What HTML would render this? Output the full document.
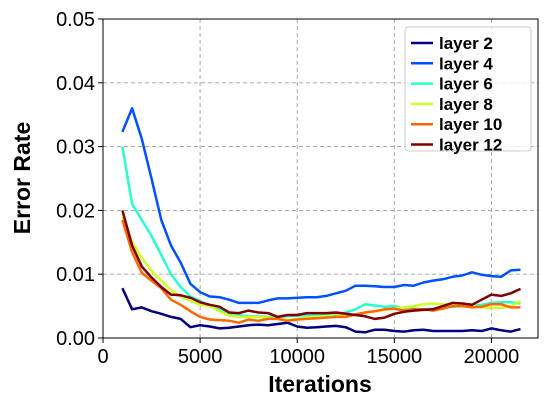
<!DOCTYPE html>
<html><head><meta charset="utf-8"><style>
body{margin:0;background:#fff;font-family:"Liberation Sans",sans-serif}
svg text{font-family:"Liberation Sans",sans-serif}
</style></head><body>
<svg id="c" width="547" height="408"></svg>
<script>
const xTicks=[0,5000,10000,15000,20000];
const yTicks=[0,0.01,0.02,0.03,0.04,0.05];
const yTickLabels=["0.00","0.01","0.02","0.03","0.04","0.05"];
const seriesNames=["layer 2","layer 4","layer 6","layer 8","layer 10","layer 12"];
const seriesColors=["#00007f","#0050ff","#29ffce","#ceff29","#ff6800","#7f0000"];
const layer2=[0.0078,0.0045,0.0048,0.0042,0.0038,0.0033,0.0030,0.0017,0.0020,0.0018,0.0015,0.0016,0.0018,0.0020,0.0021,0.0020,0.0022,0.0024,0.0018,0.0016,0.0017,0.0018,0.0019,0.0017,0.0010,0.0009,0.0013,0.0013,0.0011,0.0010,0.0012,0.0013,0.0011,0.0011,0.0011,0.0011,0.0012,0.0011,0.0015,0.0012,0.0010,0.0014];
const layer4=[0.0323,0.0360,0.0312,0.0250,0.0185,0.0145,0.0118,0.0085,0.0072,0.0065,0.0064,0.0060,0.0055,0.0055,0.0055,0.0059,0.0062,0.0062,0.0063,0.0064,0.0064,0.0066,0.0070,0.0074,0.0082,0.0082,0.0081,0.0080,0.0080,0.0083,0.0082,0.0087,0.0090,0.0092,0.0096,0.0098,0.0103,0.0099,0.0097,0.0096,0.0106,0.0107];
const layer6=[0.0300,0.0210,0.0185,0.0160,0.0130,0.0100,0.0080,0.0065,0.0058,0.0050,0.0045,0.0037,0.0036,0.0034,0.0034,0.0033,0.0033,0.0034,0.0035,0.0036,0.0036,0.0037,0.0038,0.0040,0.0045,0.0053,0.0051,0.0049,0.0050,0.0046,0.0046,0.0045,0.0046,0.0048,0.0049,0.0050,0.0050,0.0052,0.0055,0.0056,0.0056,0.0054];
const layer8=[0.0190,0.0150,0.0125,0.0105,0.0090,0.0075,0.0065,0.0058,0.0052,0.0050,0.0042,0.0035,0.0033,0.0033,0.0033,0.0032,0.0030,0.0028,0.0030,0.0032,0.0033,0.0034,0.0035,0.0036,0.0036,0.0040,0.0042,0.0044,0.0046,0.0048,0.0050,0.0053,0.0054,0.0053,0.0052,0.0050,0.0050,0.0048,0.0047,0.0047,0.0050,0.0058];
const layer10=[0.0185,0.0135,0.0102,0.0090,0.0078,0.0060,0.0052,0.0042,0.0033,0.0029,0.0028,0.0027,0.0024,0.0029,0.0027,0.0030,0.0030,0.0027,0.0029,0.0030,0.0031,0.0032,0.0033,0.0033,0.0037,0.0040,0.0042,0.0045,0.0046,0.0043,0.0045,0.0045,0.0043,0.0046,0.0050,0.0050,0.0048,0.0049,0.0053,0.0053,0.0048,0.0048];
const layer12=[0.0200,0.0145,0.0112,0.0095,0.0080,0.0068,0.0067,0.0063,0.0056,0.0052,0.0049,0.0040,0.0039,0.0043,0.0040,0.0039,0.0033,0.0036,0.0036,0.0039,0.0039,0.0039,0.0040,0.0038,0.0036,0.0034,0.0030,0.0032,0.0038,0.0041,0.0043,0.0044,0.0045,0.0050,0.0055,0.0054,0.0052,0.0060,0.0068,0.0066,0.0070,0.0077];
const allSeries=[layer2,layer4,layer6,layer8,layer10,layer12];
const xStart=1000, xStep=500;

const NS="http://www.w3.org/2000/svg", svg=document.getElementById('c');
const L=103,R=538,T=19,B=338;
const xs=v=>L+(v-0)/22400*(R-L);
const ys=v=>B-v/0.05*(B-T);
function mk(t,a,p){const e=document.createElementNS(NS,t);for(const k in a)e.setAttribute(k,a[k]);(p||svg).appendChild(e);return e;}
xTicks.forEach((t,i)=>{const g=mk('line',{x1:xs(t),x2:xs(t),y1:T,y2:B,stroke:'#a0a0a0','stroke-dasharray':'4,3','stroke-width':0.9});

});
yTicks.forEach((t,i)=>{const g=mk('line',{x1:L,x2:R,y1:ys(t),y2:ys(t),stroke:'#a0a0a0','stroke-dasharray':'4,3','stroke-width':0.9});

});
allSeries.forEach((s,si)=>{const pts=s.map((v,i)=>xs(xStart+i*xStep).toFixed(1)+','+ys(v).toFixed(1)).join(' ');
const p=mk('polyline',{points:pts,fill:'none',stroke:seriesColors[si],'stroke-width':2.5,'stroke-linejoin':'round'});

});
const fr=mk('rect',{x:L,y:T,width:R-L,height:B-T,fill:'none',stroke:'#000','stroke-width':1});


xTicks.forEach(t=>{mk('line',{x1:xs(t),x2:xs(t),y1:B,y2:B+5,stroke:'#000'});
const tx=mk('text',{x:xs(t),y:B+25,'text-anchor':'middle','font-size':20});tx.textContent=t;

});
yTicks.forEach((t,i)=>{mk('line',{x1:L-5,x2:L,y1:ys(t),y2:ys(t),stroke:'#000'});
const tx=mk('text',{x:L-8,y:ys(t)+7,'text-anchor':'end','font-size':20});tx.textContent=yTickLabels[i];

});
const xt=mk('text',{x:320,y:392,'text-anchor':'middle','font-size':23,'font-weight':'bold'});xt.textContent='Iterations';


const yt=mk('text',{x:0,y:0,'text-anchor':'middle','font-size':23,'font-weight':'bold',transform:'translate(30,178) rotate(-90)'});yt.textContent='Error Rate';


const lg=mk('g',{});


mk('rect',{x:405,y:27,width:126,height:124,rx:3,fill:'#fff','fill-opacity':0.85,stroke:'#ccc'},lg);
seriesNames.forEach((n,i)=>{const y=43+i*20.3;
mk('line',{x1:411,x2:433,y1:y,y2:y,stroke:seriesColors[i],'stroke-width':2.5},lg);
const tx=mk('text',{x:439,y:y+6,'font-size':17,'font-weight':'bold'},lg);tx.textContent=n;

});
</script>
</body></html>
